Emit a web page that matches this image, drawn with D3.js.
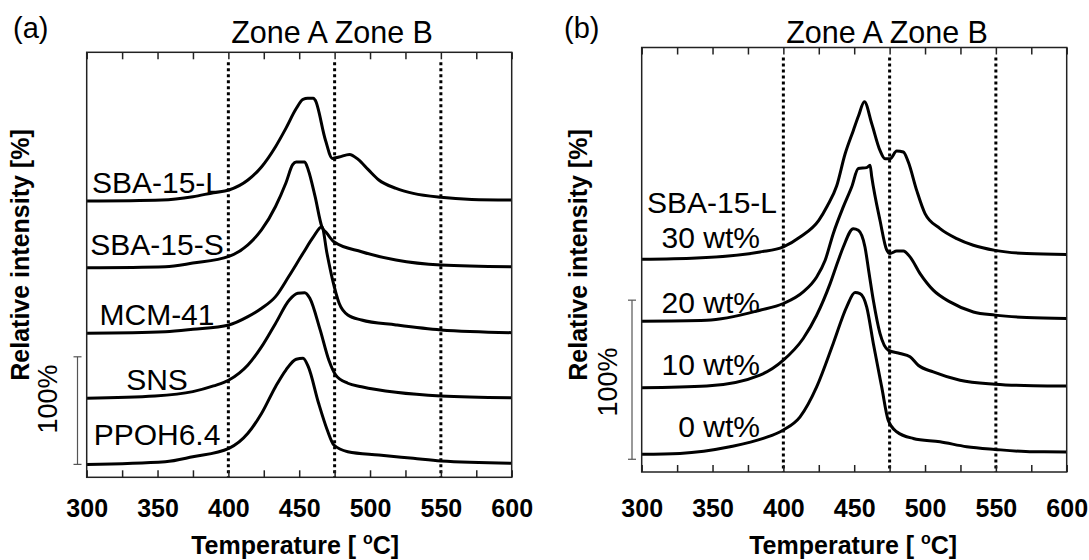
<!DOCTYPE html>
<html>
<head>
<meta charset="utf-8">
<script src="https://cdn.jsdelivr.net/npm/d3@7"></script>
<style>
  body { margin: 0; background: #fff; }
  svg { display: block; }
  text { font-family: "Liberation Sans", Arial, sans-serif; fill: #000; }
</style>
</head>
<body>
<svg id="chart" width="1089" height="560"></svg>
<script>
// ---- data (temperature in degC, relative intensity in %) ----
var tempTicks = [300, 350, 400, 450, 500, 550, 600];
var minorTicks = d3.range(300, 601, 25);
var zoneLines = [400, 475, 550];

var namesA = ["SBA-15-L", "SBA-15-S", "MCM-41", "SNS", "PPOH6.4"];
var offsetsA = [244.7, 182.7, 121.4, 61, 0];
var sba15L = [[300,-1],[353,0],[375,3.1],[389.5,6.8],[400.4,9.3],[413.8,18.6],[423.5,31],[433.3,49.6],[440.6,66.6],[447.9,85],[452.7,93.6],[456,94.5],[460,94.5],[461.2,93],[468.5,55.8],[473.4,38.7],[478.2,40],[485.5,42.4],[491.6,37.8],[498.9,28],[506.2,18.6],[518.4,10.8],[530.5,6.2],[550,2.5],[571.8,0.6],[600,0]];
var sba15S = [[300,-1],[355.5,0],[374.9,3.4],[400.4,9.6],[413.8,20.4],[423.5,34.4],[433.3,56],[440.6,77.8],[445.4,94.8],[447.9,97.3],[453.9,97.3],[456.4,90],[461.2,65.4],[466,37.2],[469.6,31],[474.5,23.2],[494,13.9],[518.3,6.2],[550,1.6],[600,0]];
var mcm41 = [[300,-0.5],[355.5,0.9],[374.9,3.1],[400.4,7.2],[413.8,14.9],[423.5,22.7],[433.3,33.5],[442.5,52],[452.7,73.8],[460,89],[466,98.5],[469.6,73.8],[473.4,50],[478.2,27.3],[484.3,16.4],[494,11.8],[518.3,7.2],[550,2.5],[600,0]];
var sns = [[300,-0.5],[348.2,1.5],[374.9,5.6],[389.5,10.9],[400.4,16.4],[413.8,30.4],[423.5,47.4],[433.3,69],[443,90.8],[449,97],[453.9,97.6],[457.5,92.4],[464.8,63],[470.9,35],[475.8,21],[484.3,13.4],[494,10.2],[518.3,5],[550,1.6],[600,0]];
var ppoh64 = [[300,-1],[355.5,1.5],[374.9,6.1],[400.4,13.9],[413.8,27.9],[423.5,46.5],[433.3,71.2],[440.6,86.7],[447.9,96.7],[452.7,97.6],[456.4,89.8],[463.7,55.8],[469.8,31],[474.5,17],[484.3,10.8],[506.2,7.7],[530.5,4.6],[550,2.1],[600,0]];

var namesB = ["30 wt%", "20 wt%", "10 wt%", "0 wt%"];
var offsetsB = [122.6, 83.7, 41.8, 0];
var wt30 = [[300,0],[338.8,0.8],[383.5,4.6],[400,7.8],[411.8,14],[425,24.5],[431,33.5],[437.6,46],[443.5,66],[449.4,81],[453,90],[457.2,99],[462.4,85.2],[468.2,68.4],[471.7,63.2],[475.3,63.2],[480,68],[484.7,67.4],[488.2,61.1],[494.1,43.3],[500,28.7],[510.6,19.3],[522.4,13],[534.1,8.8],[549.4,5.6],[571.7,3.6],[600,3]];
var wt20 = [[300,0],[345.9,0.6],[383.5,6.9],[400,11.1],[414,18.4],[423.5,27.8],[429.5,38.3],[435.2,55],[442.3,71.8],[448.2,84.3],[452.9,95.9],[458.8,96.5],[461.2,98],[462.4,90.6],[468.2,63.4],[473,44.6],[475.3,42.5],[480,44.1],[484.7,44.1],[489.4,40.4],[496.5,29.9],[505.8,19.5],[517.6,12.1],[534.1,5.8],[549.4,3.8],[571.7,2.3],[600,1.7]];
var wt10 = [[300,0],[345.9,1.1],[383.5,8],[400,17.4],[414,31],[423.5,45.6],[433,65.5],[438.8,80.2],[442.3,88.5],[449.4,100],[452.9,99],[457.6,88.5],[460.5,72],[463.5,55],[468.2,34.2],[474,23.7],[482.3,21.6],[489.4,19.5],[495.2,14.2],[505.8,10],[524.7,4.8],[549.4,2.3],[576.4,1.3],[600,1.1]];
var wt0 = [[300,0],[327,0.6],[362.3,4.8],[385.8,10],[400,15.3],[411.8,23.6],[423.5,42.4],[435.2,69.7],[444.7,92.7],[450.6,101.7],[454.1,101],[458.8,92.7],[463.5,69.7],[469.4,42.4],[474,21.5],[480,14.2],[491.7,10],[510.6,7.9],[529.4,4.8],[549.4,3.1],[576.4,1.6],[600,1.5]];

var seriesA = [sba15L, sba15S, mcm41, sns, ppoh64];
var seriesB = [wt30, wt20, wt10, wt0];

// ---- layout ----
var svg = d3.select("#chart");

function drawPanel(p) {
  var g = svg.append("g");
  var x = d3.scaleLinear().domain([300, 600]).range([p.left, p.left + 425]);
  var y = d3.scaleLinear().domain(p.yDomain).range([p.bottom, p.top]);

  // zone boundaries
  g.selectAll(".zone").data(zoneLines).enter().append("line")
    .attr("x1", d => x(d)).attr("x2", d => x(d))
    .attr("y1", p.top + 10).attr("y2", p.bottom)
    .attr("stroke", "#000").attr("stroke-width", 3)
    .attr("stroke-dasharray", "3,3");

  // curves
  var line = d3.line().curve(d3.curveMonotoneX);
  p.series.forEach(function(s, i) {
    g.append("path")
      .attr("d", line(s.map(d => [x(d[0]), y(d[1] + p.offsets[i])])))
      .attr("fill", "none").attr("stroke", "#000")
      .attr("stroke-width", 3).attr("stroke-linejoin", "round");
  });

  // frame + inward ticks
  g.append("rect").attr("x", p.left).attr("y", p.top)
    .attr("width", 425).attr("height", p.bottom - p.top)
    .attr("fill", "none").attr("stroke", "#222").attr("stroke-width", 1.5);
  var top = g.append("g").attr("transform", "translate(0," + p.top + ")")
    .call(d3.axisTop(x).tickValues(minorTicks).tickSize(-7).tickFormat(""));
  var bot = g.append("g").attr("transform", "translate(0," + p.bottom + ")")
    .call(d3.axisBottom(x).tickValues(minorTicks).tickSize(-7).tickFormat(""));
  [top, bot].forEach(function(a) {
    a.select(".domain").remove();
    a.selectAll("line").attr("stroke", "#222").attr("stroke-width", 1.5);
  });

  // tick labels
  var lab = g.append("g").attr("transform", "translate(0," + p.bottom + ")")
    .call(d3.axisBottom(x).tickValues(tempTicks).tickSize(0).tickPadding(516.7 - p.bottom - 17.8));
  lab.select(".domain").remove();
  lab.selectAll("text").attr("font-size", 25).attr("font-weight", "bold")
    .attr("font-family", "Liberation Sans, Arial, sans-serif").attr("fill", "#000");

  // x title
  var t = g.append("text").attr("x", p.left + 212.5 + p.titleShift).attr("y", 553.5)
    .attr("text-anchor", "middle").attr("font-size", 25).attr("font-weight", "bold");
  t.append("tspan").text("Temperature [ ");
  t.append("tspan").attr("font-size", 16).attr("dy", -10).text("o");
  t.append("tspan").attr("dy", 10).text("C]");

  // y title and scale bar
  g.append("text").attr("transform", "translate(" + p.yTitleX + ",255) rotate(-90)")
    .attr("text-anchor", "middle").attr("font-size", 25).attr("font-weight", "bold")
    .text("Relative intensity [%]");
  g.append("text").attr("transform", "translate(" + p.pctX + "," + p.pctY + ") rotate(-90)")
    .attr("text-anchor", "middle").attr("font-size", 27).text("100%");
  var bar = g.append("g").attr("stroke", "#555").attr("stroke-width", 1.2);
  bar.append("line").attr("x1", p.barX).attr("x2", p.barX)
    .attr("y1", y(p.bar[0])).attr("y2", y(p.bar[1]));
  p.bar.forEach(function(v) {
    bar.append("line").attr("x1", p.barX - 4).attr("x2", p.barX + 4)
      .attr("y1", y(v)).attr("y2", y(v));
  });

  // zone title and panel tag
  g.append("text").attr("x", x(402)).attr("y", 43.3).attr("font-size", 30.5)
    .text("Zone A Zone B");
  g.append("text").attr("x", p.tagX).attr("y", 38).attr("font-size", 29).text(p.tag);

  // sample labels
  p.labels.forEach(function(l) {
    g.append("text").attr("x", l.x).attr("y", l.y).attr("text-anchor", l.anchor)
      .attr("font-size", 30).text(l.text);
  });
}

drawPanel({
  left: 86.7, top: 52.3, bottom: 477.3, yDomain: [-13, 382],
  series: seriesA, offsets: offsetsA, titleShift: -4,
  yTitleX: 29, pctX: 57, pctY: 399, barX: 77.5, bar: [-1, 99],
  tag: "(a)", tagX: 13,
  labels: namesA.map(function(n, i) {
    return { text: n, x: 157, y: [192.7, 255, 325, 390, 445][i], anchor: "middle" };
  })
});

drawPanel({
  left: 641.7, top: 47.5, bottom: 472, yDomain: [-11.1, 255.7],
  series: seriesB, offsets: offsetsB, titleShift: -1,
  yTitleX: 587, pctX: 617, pctY: 382, barX: 632, bar: [-3.1, 96.9],
  tag: "(b)", tagX: 564,
  labels: [{ text: "SBA-15-L", x: 712, y: 213.3, anchor: "middle" }].concat(
    namesB.map(function(n, i) {
      return { text: n, x: 760, y: [248.3, 313.3, 375, 436.7][i], anchor: "end" };
    }))
});
</script>
</body>
</html>
